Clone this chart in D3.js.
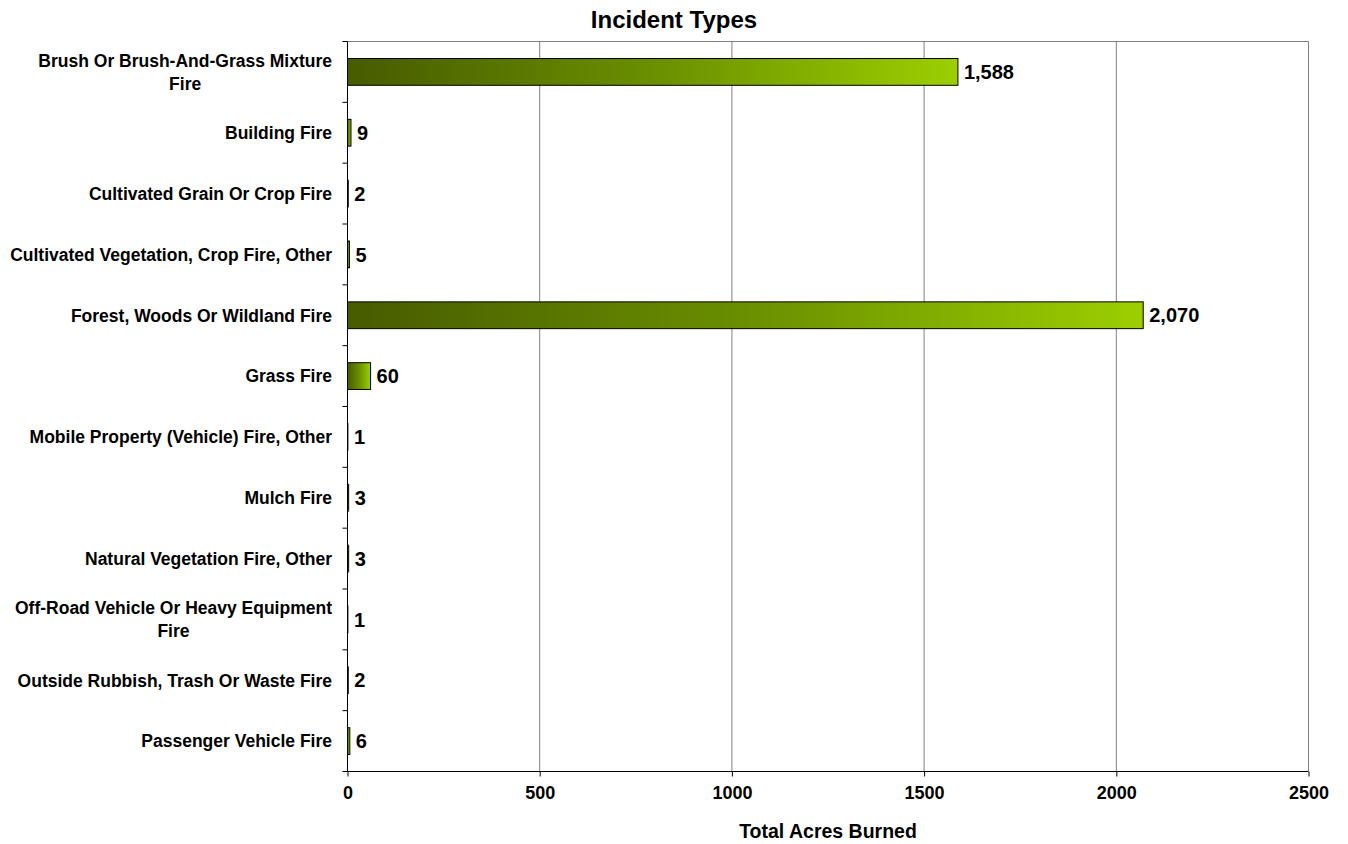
<!DOCTYPE html>
<html><head><meta charset="utf-8">
<script src="https://cdn.jsdelivr.net/npm/d3@7"></script>
<style>body{margin:0;background:#fff}text{font-family:"Liberation Sans",Arial,sans-serif;font-weight:bold;fill:#000}</style>
</head><body><svg id="c" width="1348" height="844"></svg>
<script>
const categories = ["Brush Or Brush-And-Grass Mixture Fire","Building Fire","Cultivated Grain Or Crop Fire","Cultivated Vegetation, Crop Fire, Other","Forest, Woods Or Wildland Fire","Grass Fire","Mobile Property (Vehicle) Fire, Other","Mulch Fire","Natural Vegetation Fire, Other","Off-Road Vehicle Or Heavy Equipment Fire","Outside Rubbish, Trash Or Waste Fire","Passenger Vehicle Fire"];
const values = [1588, 9, 2, 5, 2070, 60, 1, 3, 3, 1, 2, 6];
const xTicks = [0, 500, 1000, 1500, 2000, 2500];
const title = "Incident Types";
const xTitle = "Total Acres Burned";

const catFont = 17.5;
const svg = d3.select("#c");
const m = {l:347.5, t:41.5, r:1308.5, b:771.5};
const x = d3.scaleLinear().domain([0,2500]).range([m.l, m.r]);
const y = d3.scaleBand().domain(categories).range([m.t, m.b]).paddingInner(0.56).paddingOuter(0.28);

const defs = svg.append("defs");
const g = defs.append("linearGradient").attr("id","grad").attr("x1","0").attr("x2","1").attr("y1","0").attr("y2","0");
g.append("stop").attr("offset","0").attr("stop-color","#475b00");
g.append("stop").attr("offset","0.5").attr("stop-color","#6a8f00");
g.append("stop").attr("offset","1").attr("stop-color","#9ccf00");

// gridlines
svg.append("g").selectAll("line").data(xTicks.slice(1)).join("line")
  .attr("x1",d=>x(d)).attr("x2",d=>x(d)).attr("y1",m.t).attr("y2",m.b)
  .attr("stroke","#808080").attr("stroke-width",1);
svg.append("line").attr("x1",m.l).attr("x2",m.r).attr("y1",m.t).attr("y2",m.t).attr("stroke","#808080");

// bars
svg.append("g").selectAll("rect").data(values).join("rect")
  .attr("x",x(0)).attr("y",(d,i)=>y(categories[i]))
  .attr("width",d=>x(d)-x(0)).attr("height",y.bandwidth())
  .attr("fill","url(#grad)").attr("stroke","#000").attr("stroke-width",1);

// value labels
svg.append("g").selectAll("text").data(values).join("text")
  .attr("x",d=>x(d)+6).attr("y",(d,i)=>y(categories[i])+y.bandwidth()/2)
  .attr("dy","0.36em").style("font-size","20px")
  .text(d=>d3.format(",")(d));

// x axis
const xa = svg.append("g").attr("transform",`translate(0,${m.b})`)
  .call(d3.axisBottom(x).tickValues(xTicks).tickSize(5).tickPadding(10).tickFormat(d3.format("d")));
xa.select(".domain").attr("stroke","#000").attr("d",`M${m.l},0H${m.r}`);
xa.selectAll(".tick line").attr("stroke","#000");
xa.selectAll("text").style("font-size","18px").style("font-family","Liberation Sans, Arial").style("font-weight","bold").attr("fill","#000");

// y axis ticks at band boundaries
const bounds = d3.range(categories.length+1).map(i=>m.t + i*(m.b-m.t)/categories.length);
svg.append("g").selectAll("line").data(bounds).join("line")
  .attr("x1",m.l-5).attr("x2",m.l).attr("y1",d=>d).attr("y2",d=>d).attr("stroke","#000");
svg.append("line").attr("x1",m.l).attr("x2",m.l).attr("y1",m.t).attr("y2",m.b).attr("stroke","#000");
svg.append("line").attr("x1",m.r).attr("x2",m.r).attr("y1",m.t).attr("y2",m.b).attr("stroke","#808080");

// category labels with wrap
const labG = svg.append("g");
function tw(s){const p=labG.append("text").style("font-size",catFont+"px").text(s);const w=p.node().getComputedTextLength();p.remove();return w;}
categories.forEach((c,i)=>{
  const cy = y(c)+y.bandwidth()/2;
  const words = c.split(" ");
  let lines=[], cur=[];
  words.forEach(w=>{
    const test = cur.concat(w).join(" ");
    if (tw(test) > 326 && cur.length){ lines.push(cur.join(" ")); cur=[w]; }
    else cur.push(w);
  });
  lines.push(cur.join(" "));
  const maxW = d3.max(lines, tw);
  const cx = 332 - maxW/2;
  const lh = 23;
  const t = labG.append("text").style("font-size",catFont+"px").attr("text-anchor","middle");
  lines.forEach((l,j)=>{
    t.append("tspan").attr("x",cx).attr("y",cy + (j-(lines.length-1)/2)*lh).attr("dy","0.36em").text(l);
  });
});

svg.append("text").attr("x",674).attr("y",28).attr("text-anchor","middle").style("font-size","24px").text(title);
svg.append("text").attr("x",(m.l+m.r)/2).attr("y",838).attr("text-anchor","middle").style("font-size","19.5px").text(xTitle);
</script></body></html>
